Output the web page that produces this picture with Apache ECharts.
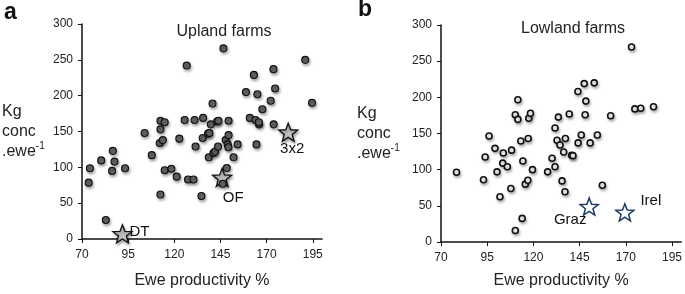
<!DOCTYPE html>
<html>
<head>
<meta charset="utf-8">
<script src="https://cdn.jsdelivr.net/npm/echarts@6/dist/echarts.min.js"></script>
<style>
  html, body { margin: 0; padding: 0; background: #fff; }
  #main { width: 685px; height: 294px; }
</style>
</head>
<body>
<div id="main"></div>
<script>
// 刻度
var xTicks = [70, 95, 120, 145, 170, 195];

// 高地农场 (a)
var uplandPoints = [
  [73.6, 78.6], [74.3, 98.8], [80.4, 109.7], [86.7, 123], [87.6, 108], [86.3, 95], [93.3, 98.8],
  [82.9, 26.5], [103.9, 148], [107.8, 117], [112.5, 165], [114.8, 163], [112.5, 153], [112.1, 134],
  [113.8, 138], [112.5, 62], [114.8, 96], [118.4, 98], [121.3, 87], [122.7, 140], [125.6, 166],
  [126.7, 242], [127.4, 83], [130.4, 83], [131, 166], [131.5, 129], [135.6, 169], [134.7, 60],
  [135.4, 141], [138.3, 147], [139, 148], [140.7, 189], [139.8, 160], [138.7, 114], [141.2, 120],
  [142.1, 122], [143.2, 164], [143.9, 165], [143.7, 129], [146.6, 266], [146.2, 77], [148.4, 99],
  [147.8, 138], [148.9, 132], [149.4, 145], [149.4, 165], [149.3, 128], [152.1, 114], [154.3, 132],
  [158.8, 205], [160.9, 169], [163.1, 229], [164, 166], [165, 202], [165.9, 160], [165.8, 163],
  [164.5, 132], [167.7, 181], [172.2, 193], [173.7, 237], [174.6, 210], [173.8, 160], [190.9, 250],
  [194.6, 190]
];
var uplandStars = [
  { name: 'DT', value: [91.9, 7.3] },
  { name: 'OF', value: [145.9, 86] },
  { name: '3x2', value: [181.7, 149] }
];

// 低地农场 (b)
var lowlandPoints = [
  [78.4, 96.5], [93, 86], [93.9, 117.6], [96, 146.5], [99.2, 129.5], [100.3, 97], [101.9, 62.5],
  [103.7, 123], [103.4, 109], [105.9, 104], [108.2, 127], [107.8, 74], [110.2, 176], [111.6, 196.6],
  [111.6, 169.5], [113.2, 139.6], [114.3, 112], [113.9, 32.6], [110.2, 16], [115.6, 80], [117, 85.4],
  [117.2, 143], [117.5, 171], [118.4, 178], [119.5, 100], [127.7, 97], [130.1, 115.8], [131.7, 157.6],
  [131.7, 104], [132.8, 140.6], [133.5, 172.7], [134.4, 134], [135.5, 84.5], [136.4, 124.5],
  [137.1, 69.4], [137.3, 143], [139.4, 177], [140.7, 120], [141.4, 119.4], [144.1, 208], [144.2, 137],
  [145.9, 148], [147.5, 219], [148, 176], [148.4, 194.8], [150.7, 137], [152.9, 220], [154.6, 148],
  [157.3, 78.5], [161.8, 174.5], [173.1, 269.6], [174.9, 184], [178.1, 185], [185, 187]
];
var lowlandStars = [
  { name: 'Graz', value: [150.2, 49] },
  { name: 'Irel', value: [169.5, 41] }
];

// 星星标签的偏移
var starOffsets = { DT: [17, -2], OF: [11, 20], '3x2': [4, 17], Graz: [-19, 13], Irel: [26, -11] };

function starPath() {
  var pts = [];
  for (var i = 0; i < 10; i++) {
    var r = i % 2 ? 42 : 100;
    var a = Math.PI / 5 * i - Math.PI / 2;
    pts.push((100 + r * Math.cos(a)).toFixed(1) + ',' + (100 + r * Math.sin(a)).toFixed(1));
  }
  return 'path://M' + pts.join('L') + 'Z';
}
var STAR = starPath();
var FONT = '"Liberation Sans", Arial, Helvetica, sans-serif';

function xAxisOf(idx, gap) {
  return {
    gridIndex: idx, type: 'value', min: 70, max: 200,
    name: 'Ewe productivity %', nameLocation: 'middle', nameGap: gap,
    nameTextStyle: { fontFamily: FONT, fontSize: 16, color: '#222' },
    axisLine: { lineStyle: { color: '#111', width: 1.5 } },
    axisTick: { show: true, length: 4, customValues: xTicks, lineStyle: { color: '#111' } },
    axisLabel: { customValues: xTicks, margin: 10, fontFamily: FONT, fontSize: 12, color: '#222' },
    splitLine: { show: false }
  };
}
function yAxisOf(idx, gap) {
  return {
    gridIndex: idx, type: 'value', min: 0, max: 300, interval: 50,
    name: '{t|Kg}\n{t|conc}\n{t|.ewe}{s|-1}', nameLocation: 'middle', nameRotate: 0, nameGap: gap,
    nameTextStyle: {
      align: 'left', fontFamily: FONT, color: '#222',
      rich: {
        t: { fontFamily: FONT, fontSize: 16, lineHeight: 20, color: '#222' },
        s: { fontFamily: FONT, fontSize: 10, lineHeight: 20, verticalAlign: 'top', padding: [0, 0, 8, 0], color: '#222' }
      }
    },
    axisLine: { show: true, lineStyle: { color: '#111', width: 1.5 } },
    axisTick: { show: true, length: 4, lineStyle: { color: '#111' } },
    axisLabel: { margin: 9, fontFamily: FONT, fontSize: 12, color: '#222' },
    splitLine: { show: false }
  };
}
function starLabel() {
  return {
    show: true, position: 'inside', formatter: '{b}',
    fontFamily: FONT, fontSize: 15, color: '#111',
    textBorderWidth: 0, textShadowBlur: 0
  };
}
function starData(list) {
  return list.map(function (d) {
    return { name: d.name, value: d.value, label: { offset: starOffsets[d.name] } };
  });
}

var myChart = echarts.init(document.getElementById('main'));

var option = {
  animation: false,
  textStyle: { fontFamily: FONT },
  title: [
    { text: 'Upland farms', left: 219, top: 19, textAlign: 'center',
      textStyle: { fontFamily: FONT, fontSize: 16, fontWeight: 'normal', color: '#222' } },
    { text: 'Lowland farms', left: 568, top: 16, textAlign: 'center',
      textStyle: { fontFamily: FONT, fontSize: 16, fontWeight: 'normal', color: '#222' } }
  ],
  graphic: [
    { type: 'text', left: 4, top: 1, style: { text: 'a', font: 'bold 23px ' + FONT, fill: '#111' } },
    { type: 'text', left: 358, top: -2, style: { text: 'b', font: 'bold 23px ' + FONT, fill: '#111' } }
  ],
  grid: [
    { left: 81, top: 24, width: 241, height: 219 },
    { left: 441, top: 25, width: 241, height: 218 }
  ],
  xAxis: [xAxisOf(0, 34), xAxisOf(1, 31)],
  yAxis: [yAxisOf(0, 80), yAxisOf(1, 84)],
  series: [
    {
      type: 'scatter', xAxisIndex: 0, yAxisIndex: 0, z: 2,
      symbol: STAR, symbolSize: 19, symbolKeepAspect: true,
      itemStyle: { opacity: 1, color: '#c4c4c4', borderColor: '#111', borderWidth: 1.3,
        shadowBlur: 3, shadowOffsetX: 1, shadowOffsetY: 2, shadowColor: 'rgba(0,0,0,0.35)' },
      label: starLabel(),
      data: starData(uplandStars)
    },
    {
      type: 'scatter', xAxisIndex: 0, yAxisIndex: 0, z: 3,
      symbol: 'circle', symbolSize: 7,
      itemStyle: { opacity: 1, color: '#666', borderColor: '#111', borderWidth: 1.1,
        shadowBlur: 3, shadowOffsetX: 1, shadowOffsetY: 2, shadowColor: 'rgba(0,0,0,0.35)' },
      data: uplandPoints
    },
    {
      type: 'scatter', xAxisIndex: 1, yAxisIndex: 1, z: 3,
      symbol: 'circle', symbolSize: 6,
      itemStyle: { opacity: 1, color: '#fff', borderColor: '#111', borderWidth: 1.6,
        shadowBlur: 3, shadowOffsetX: 1, shadowOffsetY: 2, shadowColor: 'rgba(0,0,0,0.3)' },
      data: lowlandPoints
    },
    {
      type: 'scatter', xAxisIndex: 1, yAxisIndex: 1, z: 2,
      symbol: STAR, symbolSize: 18, symbolKeepAspect: true,
      itemStyle: { opacity: 1, color: '#fff', borderColor: '#1f3b63', borderWidth: 1.5 },
      label: starLabel(),
      data: starData(lowlandStars)
    }
  ]
};

myChart.setOption(option);
</script>
</body>
</html>
